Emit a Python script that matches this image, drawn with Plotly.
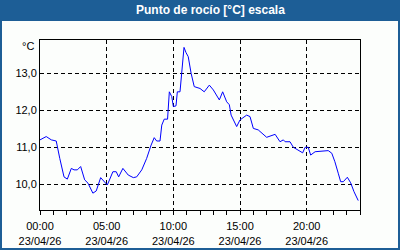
import plotly.graph_objects as go

DAY = "2026-04-23"
times = ["00:00", "00:28", "00:51", "01:13", "01:29", "01:48", "02:03", "02:21", "02:33", "02:48",
         "03:03", "03:21", "03:36", "03:58", "04:13", "04:33", "05:03", "05:28", "05:43", "05:54",
         "06:13", "06:37", "07:00", "07:15", "07:38", "08:00", "08:20", "08:34", "08:45", "09:00",
         "09:08", "09:19", "09:34", "09:42", "09:53", "10:00", "10:12", "10:18", "10:30", "10:38",
         "10:48", "10:57", "11:07", "11:20", "11:34", "12:00", "12:19", "12:42", "13:00", "13:27",
         "13:42", "14:00", "14:12", "14:20", "14:45", "15:00", "15:30", "15:45", "16:00", "16:22",
         "16:38", "17:00", "17:38", "18:00", "18:15", "18:23", "18:45", "19:00", "19:42", "19:53",
         "20:07", "20:18", "20:38", "21:37", "21:53", "22:07", "22:22", "22:33", "22:45", "23:03",
         "23:18", "23:33", "23:52"]
dew_point = [11.20, 11.29, 11.20, 11.17, 10.70, 10.20, 10.14, 10.43, 10.39, 10.39,
             10.48, 10.12, 10.03, 9.76, 9.82, 10.18, 9.98, 10.34, 10.34, 10.20,
             10.43, 10.25, 10.18, 10.20, 10.39, 10.70, 11.06, 11.26, 11.17, 11.17,
             11.60, 11.76, 11.76, 12.50, 12.37, 12.10, 12.12, 12.50, 12.50, 13.09,
             13.70, 13.56, 13.45, 13.00, 12.64, 12.59, 12.50, 12.68, 12.55, 12.28,
             12.50, 12.23, 12.15, 11.87, 11.56, 11.74, 11.87, 11.83, 11.51, 11.47,
             11.38, 11.27, 11.35, 11.15, 11.20, 11.15, 11.15, 11.00, 10.85, 11.00,
             11.00, 10.79, 10.88, 10.91, 10.84, 10.61, 10.30, 10.07, 10.07, 10.19,
             10.04, 9.80, 9.56]

x_tick_times = ["00:00", "05:00", "10:00", "15:00", "20:00"]
x_tick_labels = ["00:00<br>23/04/26", "05:00<br>23/04/26", "10:00<br>23/04/26",
                 "15:00<br>23/04/26", "20:00<br>23/04/26"]
y_tick_vals = [10, 11, 12, 13]
y_tick_labels = ["10,0", "11,0", "12,0", "13,0"]
title = "Punto de rocío [°C] escala"
unit = "°C"

x = [f"{DAY} {t}" for t in times]
tickvals = [f"{DAY} {t}" for t in x_tick_times]

BLUE = "#1d5e96"
FONT = "Liberation Sans"
GRIDDASH = "4px,3px"

fig = go.Figure()
fig.add_trace(go.Scatter(x=x, y=dew_point, mode="lines",
                         line=dict(color="#0000ff", width=1), hoverinfo="skip"))

fig.update_layout(
    width=400, height=250,
    margin=dict(l=40, r=40, t=40, b=40, autoexpand=False),
    paper_bgcolor="#fcfefc", plot_bgcolor="#fcfefc",
    showlegend=False,
    font=dict(family=FONT, size=11, color="#000000"),
    xaxis=dict(
        type="date", automargin=False,
        range=[f"{DAY} 00:00", "2026-04-24 00:00"],
        tickmode="array", tickvals=tickvals, ticktext=x_tick_labels,
        ticks="outside", ticklen=4, tickcolor="#000", tickwidth=1,
        ticklabelstandoff=2,
        showgrid=True, gridcolor="#000000", griddash=GRIDDASH, gridwidth=1,
        showline=True, linecolor="#000000", linewidth=1, mirror=True,
        zeroline=False,
        minor=dict(dtick=3600000, tick0=f"{DAY} 00:00", ticks="outside",
                   ticklen=4, tickcolor="#000", showgrid=False),
        tickfont=dict(family=FONT, size=11, color="#000"),
    ),
    yaxis=dict(
        range=[9.305, 13.9], automargin=False,
        tickmode="array", tickvals=y_tick_vals, ticktext=y_tick_labels,
        ticks="", showgrid=True, gridcolor="#000000", griddash=GRIDDASH, gridwidth=1,
        showline=True, linecolor="#000000", linewidth=1, mirror=True,
        zeroline=False,
        tickfont=dict(family=FONT, size=11, color="#000"),
    ),
    shapes=[
        dict(type="rect", xref="paper", yref="paper",
             x0=-40/320, x1=360/320, y0=(210-21)/170, y1=210/170,
             fillcolor=BLUE, line=dict(width=0), layer="below"),
        dict(type="rect", xref="paper", yref="paper",
             x0=-39/320, x1=359/320, y0=-39/170, y1=209/170,
             fillcolor="rgba(0,0,0,0)", line=dict(color=BLUE, width=2)),
    ],
    annotations=[
        dict(text=f"<b>{title}</b>", xref="paper", yref="paper",
             x=(210-40)/320, y=(210-10.5)/170, xanchor="center", yanchor="middle",
             showarrow=False, font=dict(family=FONT, size=12, color="#ffffff")),
        dict(text=unit, xref="paper", yref="paper",
             x=(36-40)/320, y=(210-46.5)/170, xanchor="right", yanchor="middle",
             showarrow=False, font=dict(family=FONT, size=11, color="#000")),
    ],
)

fig.write_html("out.html")
